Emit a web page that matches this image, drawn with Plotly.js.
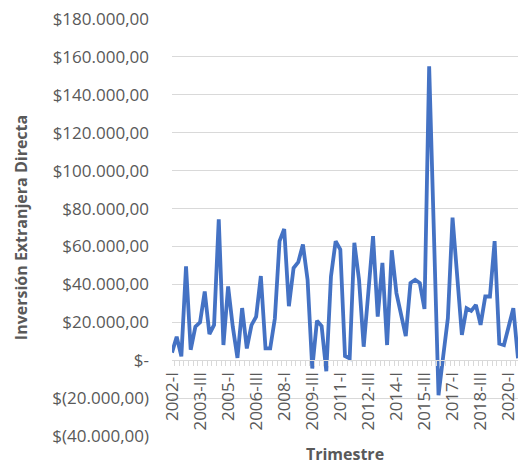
<!DOCTYPE html>
<html>
<head>
<meta charset="utf-8">
<script src="https://cdn.plot.ly/plotly-3.0.1.min.js"></script>
<style>
html,body{margin:0;padding:0;background:#fff;}
#chart{width:519px;height:465px;}
</style>
</head>
<body>
<div id="chart"></div>
<script>
const quarters = [
 '2002-I','2002-II','2002-III','2002-IV','2003-I','2003-II','2003-III','2003-IV',
 '2004-I','2004-II','2004-III','2004-IV','2005-I','2005-II','2005-III','2005-IV',
 '2006-I','2006-II','2006-III','2006-IV','2007-I','2007-II','2007-III','2007-IV',
 '2008-I','2008-II','2008-III','2008-IV','2009-I','2009-II','2009-III','2009-IV',
 '2010-I','2010-II','2010-III','2010-IV','2011-I','2011-II','2011-III','2011-IV',
 '2012-I','2012-II','2012-III','2012-IV','2013-I','2013-II','2013-III','2013-IV',
 '2014-I','2014-II','2014-III','2014-IV','2015-I','2015-II','2015-III','2015-IV',
 '2016-I','2016-II','2016-III','2016-IV','2017-I','2017-II','2017-III','2017-IV',
 '2018-I','2018-II','2018-III','2018-IV','2019-I','2019-II','2019-III','2019-IV',
 '2020-I','2020-II','2020-III'
];
const ied = [
 4000, 12400, 2000, 49500, 5500, 17700, 20000, 36200,
 13800, 18600, 74300, 8000, 38900, 17700, 1200, 27500,
 6200, 18500, 23000, 44400, 6200, 6200, 22000, 62800,
 69200, 28500, 48600, 51700, 61000, 42400, -4400, 20800,
 18000, -5800, 44200, 62800, 58400, 2200, 900, 61900,
 42400, 7100, 36000, 65400, 23000, 51300, 8000, 58000,
 35400, 23000, 12700, 40700, 42400, 40700, 27000, 155000,
 68000, -18500, 2000, 22100, 75200, 44000, 13300, 27400,
 26000, 29200, 18600, 33600, 33600, 62800, 8800, 8000,
 17500, 27400, 1000
];
const labeledTicks = ['2002-I','2003-III','2005-I','2006-III','2008-I','2009-III','2011-I',
 '2012-III','2014-I','2015-III','2017-I','2018-III','2020-I'];
const yTickVals = [-40000,-20000,0,20000,40000,60000,80000,100000,120000,140000,160000,180000];

function fmtMoney(v){
  if (v === 0) return '$-';
  const a = Math.abs(v);
  const s = a.toFixed(0).replace(/\B(?=(\d{3})+(?!\d))/g, '.') + ',00';
  return v < 0 ? '$(' + s + ')' : '$' + s;
}

const yMin = -40000, yMax = 180000;
const textColor = '#595959';
const gridColor = '#D9D9D9';
const fontFam = '"Open Sans", "Noto Sans", sans-serif';

const trace = {
  type: 'scatter', mode: 'lines',
  x: quarters, y: ied,
  line: {color: '#4472C4', width: 3.8},
  hoverinfo: 'skip'
};

const layout = {
  width: 519, height: 465,
  margin: {l: 172, r: 1, t: 19, b: 29},
  paper_bgcolor: '#fff', plot_bgcolor: '#fff',
  showlegend: false,
  font: {family: fontFam, color: textColor, size: 17},
  xaxis: {
    type: 'category',
    anchor: 'free',
    position: (0 - yMin) / (yMax - yMin),
    tickmode: 'array',
    tickvals: quarters,
    ticktext: quarters.map(q => labeledTicks.includes(q) ? q : ''),
    tickangle: -90,
    ticks: 'outside', tickson: 'boundaries', ticklen: 5, tickcolor: gridColor, tickwidth: 1,
    ticklabelstandoff: 4,
    showline: true, linecolor: gridColor, linewidth: 1,
    showgrid: false, zeroline: false,
    tickfont: {size: 17, color: textColor, family: fontFam},
    title: {text: 'Trimestre', font: {size: 16, color: textColor, family: fontFam, weight: 700}, standoff: 20},
    automargin: false
  },
  yaxis: {
    range: [yMin, yMax],
    tickmode: 'array',
    tickvals: yTickVals,
    ticktext: yTickVals.map(fmtMoney),
    ticks: '', ticklabelstandoff: 22,
    showgrid: true, gridcolor: gridColor, gridwidth: 1,
    zeroline: true, zerolinecolor: gridColor, zerolinewidth: 1,
    showline: false,
    tickfont: {size: 17, color: textColor, family: fontFam},
    title: {text: 'Inversión Extranjera Directa', font: {size: 16, color: textColor, family: fontFam, weight: 700}, standoff: 20},
    automargin: false
  }
};

Plotly.newPlot('chart', [trace], layout, {displayModeBar: false, staticPlot: true});
</script>
</body>
</html>
